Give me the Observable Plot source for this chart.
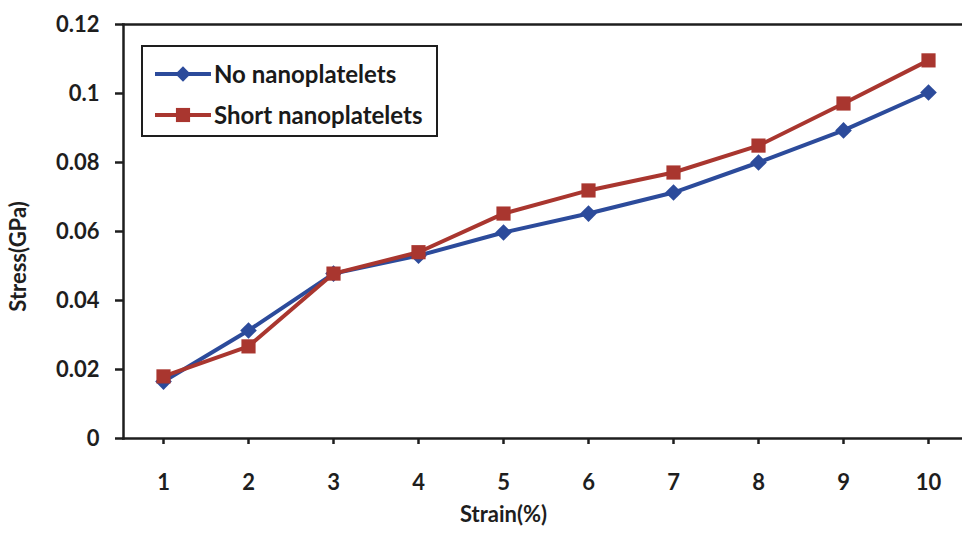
<!DOCTYPE html>
<html>
<head>
<meta charset="utf-8">
<script src="https://cdn.jsdelivr.net/npm/d3@7"></script>
<script src="https://cdn.jsdelivr.net/npm/@observablehq/plot@0.6"></script>
<style>
  html, body { margin: 0; padding: 0; background: #fff; }
  #wrap { position: relative; width: 962px; height: 534px; font-family: Lato, "Open Sans", sans-serif; }
  #legend {
    position: absolute; left: 141px; top: 45px; width: 293px; height: 88px;
    border: 2.5px solid #1e1e1e; background: #fff; box-sizing: content-box;
  }
  .item { position: absolute; left: 12px; display: flex; align-items: center; font-weight: 700; font-size: 24px; color: #1a1a1a; white-space: nowrap; }
  .item svg { display: block; margin-right: 3px; }
</style>
</head>
<body>
<div id="wrap"></div>
<script>
// ---- data ----
const strains = [1, 2, 3, 4, 5, 6, 7, 8, 9, 10];
const noNano = [0.0165, 0.0313, 0.0478, 0.0530, 0.0597, 0.0652, 0.0713, 0.0800, 0.0893, 0.1003];
const shortNano = [0.0180, 0.0267, 0.0478, 0.0540, 0.0652, 0.0719, 0.0771, 0.0849, 0.0971, 0.1096];
const seriesNames = ["No nanoplatelets", "Short nanoplatelets"];
const seriesColors = ["#2c4b9b", "#a9362f"];
const seriesSymbols = ["diamond2", "square"];
const yTicks = [0, 0.02, 0.04, 0.06, 0.08, 0.1, 0.12];
const xTitle = "Strain(%)";
const yTitle = "Stress(GPa)";

const data = [
  ...strains.map((s, i) => ({strain: s, stress: noNano[i], series: seriesNames[0]})),
  ...strains.map((s, i) => ({strain: s, stress: shortNano[i], series: seriesNames[1]}))
];

const axisColor = "#1e1e1e";
const font = "Lato, 'Open Sans', sans-serif";

const chart = Plot.plot({
  width: 962,
  height: 534,
  marginLeft: 123,
  marginRight: 0,
  marginTop: 24,
  marginBottom: 96,
  style: {fontFamily: font, background: "transparent", color: axisColor},
  x: {type: "point", domain: strains, range: [163, 928], padding: 0},
  y: {domain: [0, 0.12], range: [438, 24]},
  color: {domain: seriesNames, range: seriesColors},
  symbol: {domain: seriesNames, range: seriesSymbols},
  marks: [
    Plot.frame({anchor: "top", stroke: axisColor, strokeWidth: 2.5}),
    Plot.frame({anchor: "left", stroke: axisColor, strokeWidth: 2.5}),
    Plot.frame({anchor: "bottom", stroke: axisColor, strokeWidth: 2.5}),
    Plot.axisY({ticks: yTicks, tickSize: 8, tickPadding: 16, strokeWidth: 2.5, stroke: axisColor,
      tickFormat: d => String(+d.toFixed(2)), fontSize: 22, fontWeight: 700, label: null}),
    Plot.axisX({ticks: strains, tickSize: 6, tickPadding: 30, strokeWidth: 2.5, stroke: axisColor,
      tickFormat: d => String(d), fontSize: 22, fontWeight: 700, label: null}),
    Plot.text([yTitle], {text: d => d, frameAnchor: "left", textAnchor: "middle", rotate: -90, dx: -105, dy: 25, fontSize: () => 22, fontWeight: 700, fill: axisColor}),
    Plot.text([xTitle], {text: d => d, x: () => 5, frameAnchor: "bottom", dy: 83, fontSize: () => 22, fontWeight: 700, fill: axisColor}),
    Plot.line(data.filter(d => d.series === seriesNames[0]), {x: "strain", y: "stress", stroke: "series", strokeWidth: 4}),
    Plot.dot(data.filter(d => d.series === seriesNames[0]), {x: "strain", y: "stress", fill: "series", symbol: "series", r: 7.5, stroke: "none"}),
    Plot.line(data.filter(d => d.series === seriesNames[1]), {x: "strain", y: "stress", stroke: "series", strokeWidth: 4}),
    Plot.dot(data.filter(d => d.series === seriesNames[1]), {x: "strain", y: "stress", fill: "series", symbol: "series", r: 8, stroke: "none"})
  ]
});

const wrap = document.getElementById("wrap");
wrap.appendChild(chart);

// legend (HTML overlay)
const legend = document.createElement("div");
legend.id = "legend";
seriesNames.forEach((name, i) => {
  const item = document.createElement("div");
  item.className = "item";
  item.style.top = (i === 0 ? 12 : 53) + "px";
  const sym = d3.symbol(i === 0 ? d3.symbolDiamond2 : d3.symbolSquare, i === 0 ? 150 : 200)();
  item.innerHTML =
    `<svg width="56" height="24"><line x1="0" x2="56" y1="12" y2="12" stroke="${seriesColors[i]}" stroke-width="4"/>` +
    `<path transform="translate(28,12)" d="${sym}" fill="${seriesColors[i]}"/></svg><span>${name}</span>`;
  legend.appendChild(item);
});
wrap.appendChild(legend);
</script>
</body>
</html>
